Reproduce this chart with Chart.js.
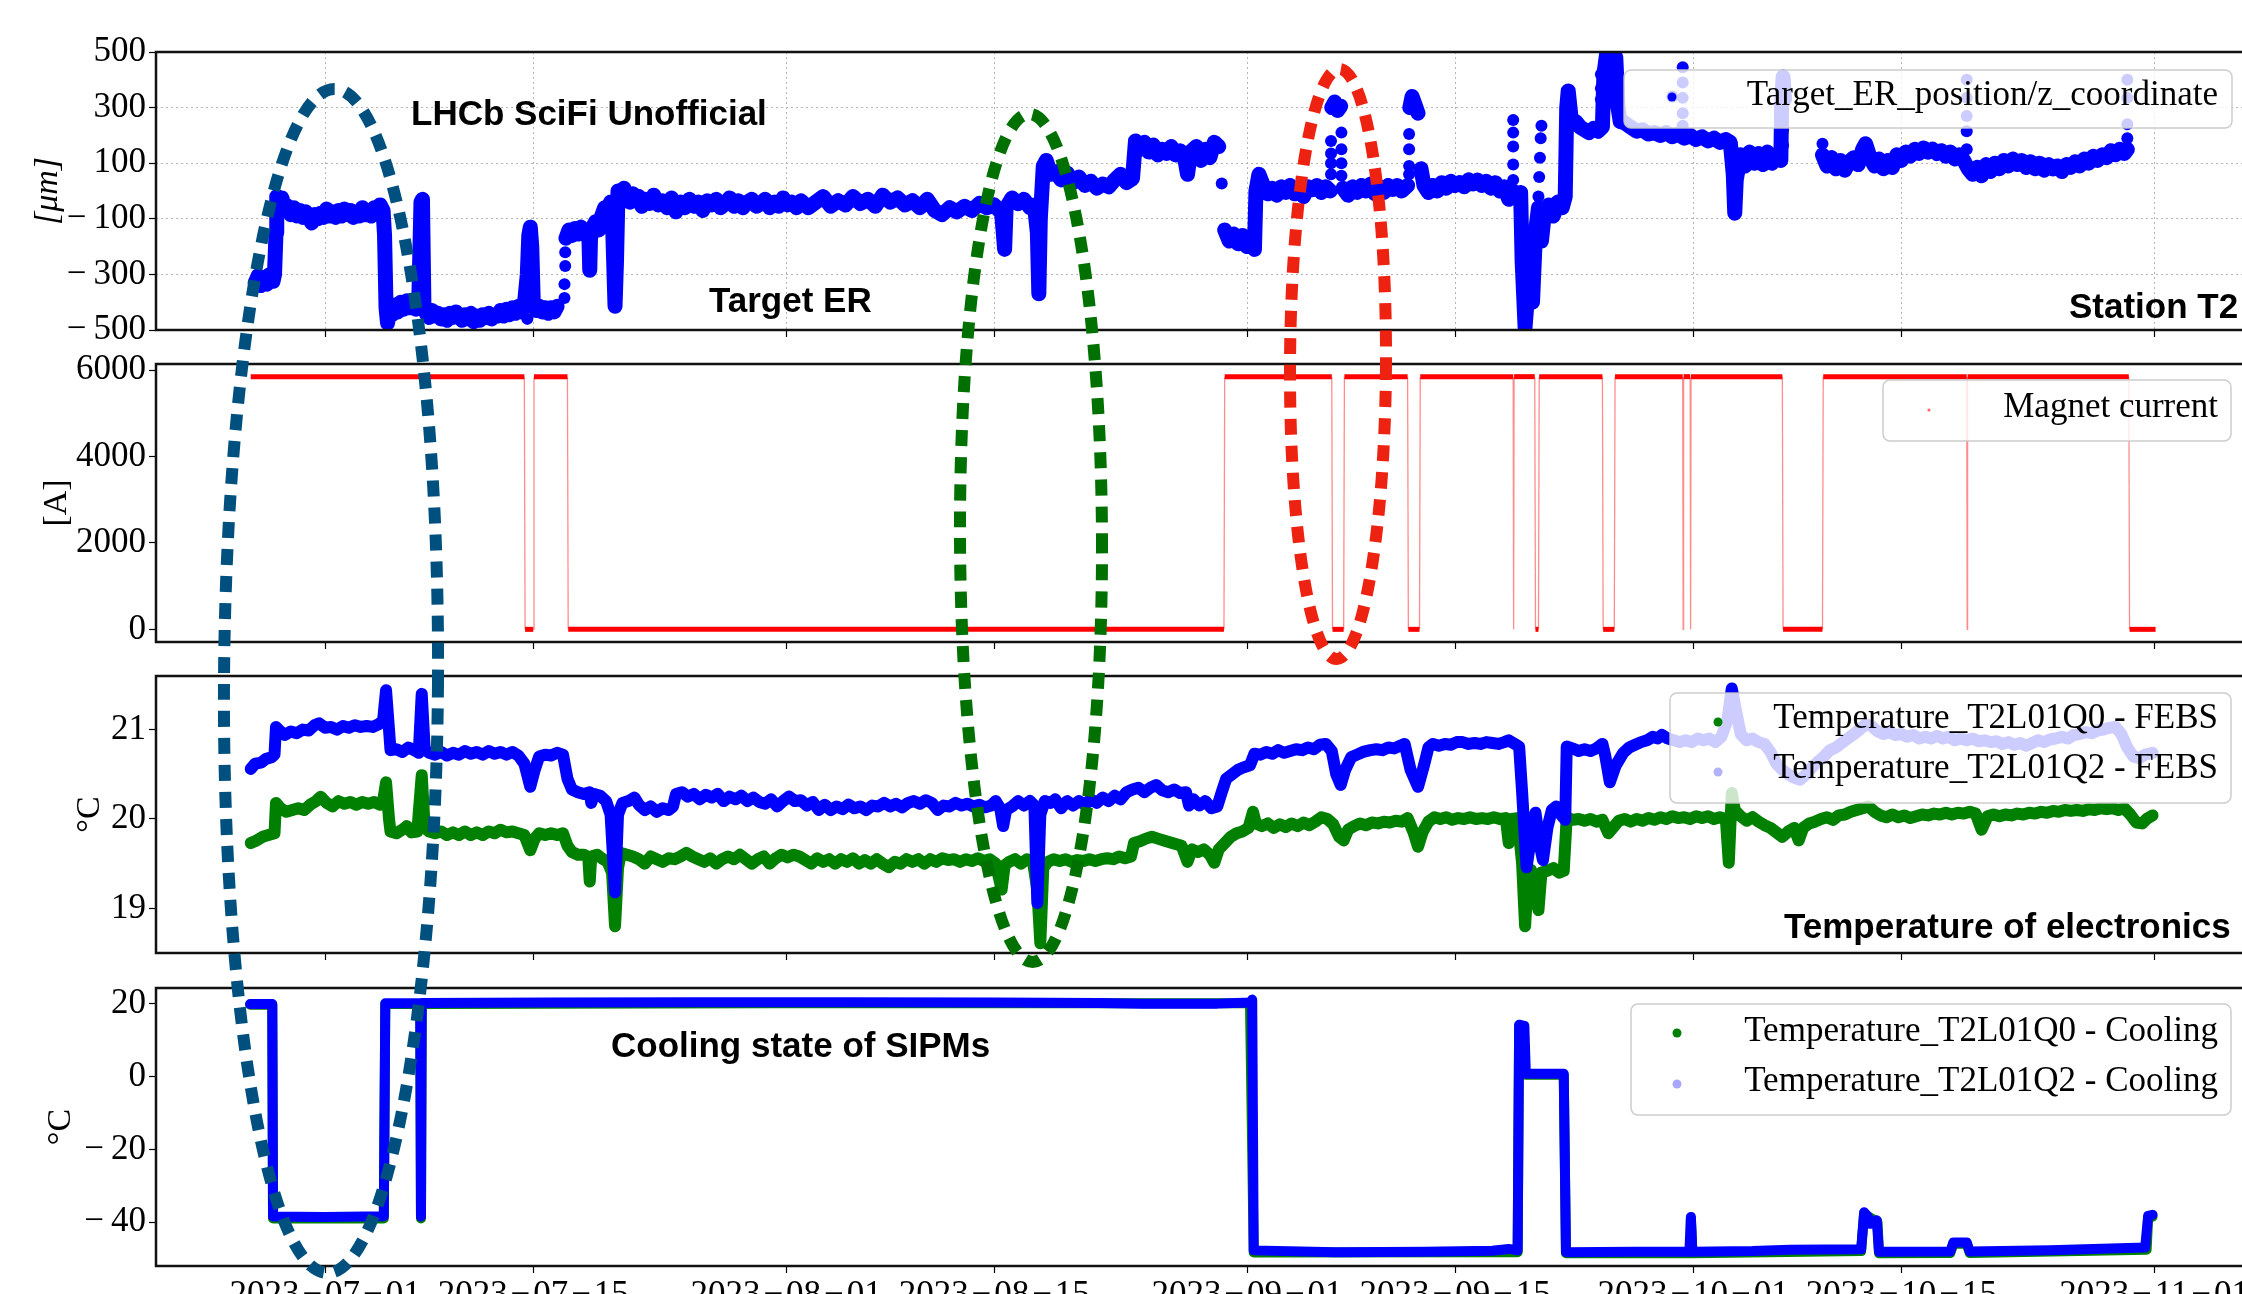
<!DOCTYPE html>
<html>
<head>
<meta charset="utf-8">
<title>SciFi T2 monitoring</title>
<script src="https://cdn.jsdelivr.net/npm/chart.js@4.4.1/dist/chart.umd.min.js"></script>
<style>
  html, body { margin: 0; padding: 0; background: #fff; overflow: hidden; }
  #stage { position: relative; width: 2242px; height: 1294px; overflow: hidden; background: #fff; }
  #stage canvas { position: absolute; left: 0; top: 0; }
</style>
</head>
<body>
<div id="stage">
  <canvas id="posChart" width="2300" height="1340"></canvas>
  <canvas id="magChart" width="2300" height="1340"></canvas>
  <canvas id="febsChart" width="2300" height="1340"></canvas>
  <canvas id="coolChart" width="2300" height="1340"></canvas>
</div>
<script>
// Time is expressed in days since 2023-07-01 00:00.
const tickDays   = [0, 14, 31, 45, 62, 76, 92, 106, 123];
const tickLabels = ['2023\u221207\u221201', '2023\u221207\u221215', '2023\u221208\u221201', '2023\u221208\u221215',
                    '2023\u221209\u221201', '2023\u221209\u221215', '2023\u221210\u221201', '2023\u221210\u221215',
                    '2023\u221211\u221201'];

const posTicks  = [-500, -300, -100, 100, 300, 500];
const magTicks  = [0, 2000, 4000, 6000];
const febsTicks = [19, 20, 21];
const coolTicks = [-40, -20, 0, 20];

const seriesLabels = {
  target: 'Target_ER_position/z_coordinate',
  magnet: 'Magnet current',
  febsQ0: 'Temperature_T2L01Q0 - FEBS',
  febsQ2: 'Temperature_T2L01Q2 - FEBS',
  coolQ0: 'Temperature_T2L01Q0 - Cooling',
  coolQ2: 'Temperature_T2L01Q2 - Cooling'
};

// Target ER z position [um]; null marks a hole in the record
const targetER = [
  [-4.7,-330],[-4.5,-305],[-4.3,-340],[-4.1,-310],[-3.9,-335],[-3.7,-300],[-3.5,-325],[-3.4,-300],[-3.3,-150],[-3.25,-20],
  [-3.1,-45],[-2.9,-25],[-2.7,-70],[-2.5,-55],[-2.3,-85],[-2.1,-60],[-1.9,-90],[-1.7,-70],[-1.5,-95],[-1.3,-75],
  [-1.1,-90],[-0.9,-115],[-0.7,-85],[-0.5,-100],[-0.3,-80],[-0.1,-95],[0.1,-65],[0.3,-90],[0.5,-75],[0.7,-95],
  [0.9,-70],[1.1,-90],[1.3,-65],[1.5,-85],[1.7,-70],[1.9,-95],[2.1,-75],[2.3,-90],[2.5,-60],[2.7,-85],
  [2.9,-70],[3.1,-90],[3.3,-60],[3.5,-80],[3.7,-50],[3.9,-70],[4.0,-160],[4.1,-420],[4.2,-475],[4.35,-430],
  [4.5,-445],[4.7,-410],[4.9,-435],[5.1,-400],[5.3,-425],[5.5,-395],[5.7,-420],[5.9,-405],[6.1,-425],[6.3,-400],
  [6.45,-40],[6.55,-30],[6.65,-420],[6.8,-440],[7.0,-455],[7.2,-430],[7.4,-450],[7.6,-440],[7.8,-460],[8.0,-445],
  [8.2,-465],[8.4,-440],[8.6,-455],[8.8,-435],[9.0,-450],[9.2,-465],[9.4,-445],[9.6,-460],[9.8,-440],[10.0,-470],
  [10.2,-450],[10.4,-465],[10.6,-445],[10.8,-455],[11.0,-440],[11.2,-460],[11.4,-445],[11.6,-450],[11.8,-430],[12.0,-450],
  [12.2,-425],[12.4,-445],[12.6,-420],[12.8,-440],[13.0,-415],[13.2,-435],[13.4,-410],[13.6,-300],[13.7,-160],[13.8,-130],
  [13.9,-200],[14.0,-400],[14.2,-430],[14.4,-415],[14.6,-435],[14.8,-420],[15.0,-440],[15.2,-420],[15.4,-435],[15.6,-415],
  [15.9,null],
  [16.2,-170],[16.4,-140],[16.6,-160],[16.8,-135],[17.0,-155],[17.2,-130],[17.4,-150],[17.6,-140],[17.75,-180],[17.8,-285],
  [17.85,-170],[18.0,-130],[18.2,-110],[18.4,-140],[18.6,-90],[18.8,-60],[18.9,-120],[19.0,-70],[19.2,-40],[19.35,-150],
  [19.5,-415],[19.6,-250],[19.7,0],[19.9,-30],[20.1,10],[20.3,-20],[20.5,-40],[20.7,-10],[20.9,-35],[21.1,-20],
  [21.3,-55],[21.5,-30],[21.8,-45],[22.1,-15],[22.4,-50],[22.7,-35],[23.0,-60],[23.3,-25],[23.6,-75],[23.9,-40],
  [24.2,-60],[24.5,-30],[24.8,-55],[25.1,-40],[25.4,-70],[25.7,-35],[26.0,-50],[26.3,-30],[26.6,-60],[26.9,-45],
  [27.2,-25],[27.5,-55],[27.8,-35],[28.1,-60],[28.4,-40],[28.7,-30],[29.0,-55],[29.3,-45],[29.6,-30],[29.9,-60],
  [30.2,-40],[30.5,-55],[30.8,-25],[31.1,-50],[31.4,-40],[31.7,-60],[32.0,-35],[32.5,-60],[33.0,-40],[33.5,-20],
  [34.0,-55],[34.5,-35],[35.0,-50],[35.5,-20],[36.0,-45],[36.5,-30],[37.0,-55],[37.5,-15],[38.0,-40],[38.5,-25],
  [39.0,-50],[39.5,-35],[40.0,-60],[40.5,-30],[41.0,-70],[41.5,-85],[42.0,-60],[42.5,-75],[43.0,-55],[43.5,-70],
  [44.0,-45],[44.5,-60],[45.0,-50],[45.5,-80],[45.7,-210],[45.8,-60],[46.2,-25],[46.6,-45],[47.0,-30],[47.4,-60],
  [47.7,-50],[47.9,-150],[48.0,-370],[48.1,-100],[48.3,90],[48.5,110],[48.8,60],[49.1,70],[49.5,40],[49.9,65],
  [50.3,30],[50.7,50],[51.1,20],[51.5,35],[51.9,10],[52.3,25],[52.7,15],[53.1,40],[53.5,60],[53.9,30],
  [54.3,45],[54.5,180],[54.8,150],[55.1,175],[55.4,140],[55.7,165],[56.0,130],[56.3,150],[56.6,135],[56.9,160],
  [57.2,130],[57.5,145],[57.8,120],[58.0,60],[58.2,140],[58.6,160],[58.9,110],[59.2,150],[59.5,120],[59.8,175],
  [60.1,160],[60.3,null],
  [60.5,-140],[60.8,-180],[61.1,-155],[61.4,-190],[61.7,-160],[62.0,-200],[62.3,-175],[62.5,-210],[62.6,0],[62.8,60],
  [63.1,20],[63.4,-10],[63.7,10],[64.0,-15],[64.3,15],[64.6,-5],[64.9,20],[65.2,-10],[65.5,10],[65.8,-20],
  [66.1,15],[66.4,5],[66.7,20],[67.0,-5],[67.3,15],[67.6,0],[67.65,null],
  [67.7,300],[67.9,320],[68.1,290],[68.3,305],[68.35,null],
  [68.45,10],[68.8,-15],[69.1,15],[69.4,-5],[69.7,20],[70.0,0],[70.3,25],[70.6,-10],[70.9,15],[71.2,-5],
  [71.5,20],[71.8,5],[72.1,20],[72.4,0],[72.8,20],[72.85,null],
  [72.95,300],[73.1,340],[73.3,310],[73.5,280],[73.55,null],
  [73.7,80],[73.9,20],[74.2,-5],[74.5,20],[74.8,0],[75.1,30],[75.4,10],[75.7,35],[76.0,20],[76.3,30],
  [76.6,15],[76.9,40],[77.2,25],[77.5,40],[77.8,20],[78.1,35],[78.4,10],[78.7,30],[79.0,0],[79.3,15],
  [79.6,-30],[79.9,0],[80.1,-20],[80.3,-10],[80.4,-5],[80.5,-250],[80.7,-490],[80.9,-350],[81.0,-200],[81.2,-400],
  [81.4,-150],[81.6,-60],[81.8,-180],[82.0,-80],[82.3,-50],[82.6,-90],[82.9,-40],[83.2,-60],[83.4,-20],[83.5,300],
  [83.6,360],[83.8,260],[84.1,250],[84.4,230],[84.7,220],[85.0,210],[85.3,225],[85.6,215],[85.9,230],[86.0,420],
  [86.2,500],[86.5,520],[86.8,480],[86.95,300],[87.1,250],[87.4,245],[87.8,230],[88.2,215],[88.6,220],[89.0,205],
  [89.4,210],[89.8,200],[90.2,210],[90.6,195],[91.0,205],[91.4,190],[91.8,200],[92.2,185],[92.6,195],[93.0,180],
  [93.4,190],[93.8,175],[94.2,185],[94.5,175],[94.7,60],[94.8,-80],[94.9,40],[95.2,130],[95.5,90],[95.8,140],
  [96.1,100],[96.4,135],[96.7,95],[97.0,140],[97.3,100],[97.6,130],[97.9,110],[97.95,300],[98.05,410],[98.15,330],
  [98.2,null],
  [100.7,130],[101.0,90],[101.3,120],[101.6,80],[101.9,110],[102.2,75],[102.5,105],[102.8,120],[103.1,95],[103.4,150],
  [103.6,170],[103.9,120],[104.2,90],[104.5,115],[104.8,80],[105.1,110],[105.4,85],[105.7,130],[106.0,110],[106.3,140],
  [106.6,125],[106.9,150],[107.2,135],[107.5,155],[107.8,140],[108.1,150],[108.4,135],[108.7,145],[109.0,125],[109.3,140],
  [109.6,115],[109.9,130],[110.2,110],[110.5,80],[110.8,60],[111.1,85],[111.4,55],[111.7,95],[112.0,70],[112.3,100],
  [112.6,80],[112.9,110],[113.2,90],[113.5,115],[113.8,95],[114.1,110],[114.4,85],[114.7,105],[115.0,80],[115.3,100],
  [115.6,75],[115.9,95],[116.2,80],[116.5,90],[116.8,70],[117.1,95],[117.4,85],[117.7,105],[118.0,90],[118.3,115],
  [118.6,100],[118.9,125],[119.2,110],[119.5,130],[119.8,120],[120.1,145],[120.4,130],[120.7,150],[121.0,135],[121.2,150]
];

// isolated read-outs of the Target ER position [um]
const targetERDots = [
  [-3.3,-290],[-3.3,-250],[-3.3,-200],[-3.3,-120],[-3.3,-80],
  [13.6,-380],[13.6,-460],[13.7,-250],
  [16.1,-385],[16.1,-335],[16.15,-270],[16.15,-220],
  [60.3,27],
  [67.65,180],[67.65,135],[67.65,100],[67.65,60],[68.35,210],[68.35,150],[68.35,100],[68.35,55],
  [72.9,205],[72.9,150],[72.9,90],[72.9,60],
  [79.9,255],[79.9,210],[79.9,160],[79.9,95],[79.9,40],
  [81.6,-20],[81.65,50],[81.7,120],[81.75,190],[81.8,235],
  [85.8,420],[85.8,370],[85.8,330],[87.0,410],[87.0,360],[87.0,300],
  [90.6,340],
  [91.3,445],[91.3,390],[91.3,335],[91.3,280],[91.3,235],
  [98.05,220],[98.05,165],
  [100.7,170],
  [110.4,400],[110.4,335],[110.4,270],[110.4,215],[110.4,150],
  [121.2,400],[121.2,335],[121.2,240],[121.2,190]
];

// LHCb dipole magnet current [A]
const magnetCurrent = [
  [-5.0,5850],[13.4,5850],[13.45,0],[14.0,0],[14.05,5850],[16.3,5850],[16.35,0],
  [60.45,0],[60.5,5850],[67.7,5850],[67.75,0],[68.5,0],[68.55,5850],
  [72.8,5850],[72.85,0],[73.6,0],[73.65,5850],[79.9,5850],[79.93,0],[79.96,5850],
  [81.35,5850],[81.4,0],[81.6,0],[81.65,5850],[85.9,5850],[85.95,0],[86.7,0],[86.75,5850],
  [91.3,5850],[91.33,0],[91.36,5850],[91.8,5850],[91.83,0],[91.86,5850],[98.0,5850],[98.05,0],
  [100.7,0],[100.75,5850],[110.4,5850],[110.43,0],[110.46,5850],[121.3,5850],[121.35,0],[123.1,0]
];

// front-end board temperatures [degC]
const febsQ0 = [
  [-5.0,19.73],[-4.6,19.76],[-4.2,19.8],[-3.8,19.82],[-3.4,19.84],[-3.3,20.18],[-3.0,20.12],[-2.6,20.08],[-2.2,20.1],[-1.8,20.12],
  [-1.4,20.1],[-1.0,20.16],[-0.6,20.2],[-0.3,20.25],[0.1,20.18],[0.5,20.14],[0.9,20.2],[1.3,20.17],[1.7,20.19],[2.1,20.16],
  [2.5,20.19],[2.9,20.17],[3.3,20.19],[3.7,20.16],[3.9,20.2],[4.1,20.41],[4.3,20.0],[4.4,19.86],[4.8,19.84],[5.2,19.88],
  [5.5,19.92],[5.8,19.85],[6.2,19.86],[6.5,20.49],[6.7,19.9],[7.0,19.86],[7.4,19.84],[7.8,19.86],[8.2,19.82],[8.6,19.85],
  [9.0,19.82],[9.4,19.86],[9.8,19.82],[10.2,19.85],[10.6,19.82],[11.0,19.86],[11.4,19.84],[11.8,19.88],[12.2,19.85],[12.6,19.86],
  [13.0,19.84],[13.4,19.82],[13.8,19.65],[14.1,19.78],[14.4,19.84],[14.8,19.82],[15.2,19.84],[15.6,19.82],[16.0,19.84],[16.3,19.7],
  [16.6,19.63],[17.0,19.6],[17.4,19.6],[17.7,19.57],[17.8,19.3],[17.9,19.58],[18.3,19.6],[18.7,19.55],[19.0,19.52],[19.3,19.4],
  [19.5,18.8],[19.7,19.45],[19.9,19.62],[20.3,19.6],[20.7,19.58],[21.1,19.55],[21.5,19.5],[21.9,19.58],[22.3,19.55],[22.7,19.52],
  [23.1,19.56],[23.5,19.55],[23.9,19.58],[24.3,19.62],[24.7,19.58],[25.1,19.55],[25.5,19.52],[25.9,19.56],[26.3,19.5],[26.7,19.55],
  [27.1,19.58],[27.5,19.55],[27.9,19.6],[28.3,19.55],[28.7,19.5],[29.1,19.55],[29.5,19.58],[29.9,19.5],[30.3,19.56],[30.7,19.6],
  [31.1,19.57],[31.5,19.6],[31.9,19.58],[32.3,19.54],[32.7,19.5],[33.1,19.56],[33.5,19.52],[33.9,19.55],[34.3,19.5],[34.7,19.55],
  [35.1,19.52],[35.5,19.56],[35.9,19.5],[36.3,19.54],[36.7,19.5],[37.1,19.55],[37.5,19.5],[37.9,19.46],[38.3,19.52],[38.7,19.5],
  [39.1,19.55],[39.5,19.52],[39.9,19.55],[40.3,19.5],[40.7,19.55],[41.1,19.52],[41.5,19.56],[41.9,19.54],[42.3,19.55],[42.7,19.52],
  [43.1,19.55],[43.5,19.53],[43.9,19.56],[44.3,19.53],[44.7,19.55],[45.1,19.5],[45.5,19.21],[45.7,19.48],[46.0,19.52],[46.4,19.55],
  [46.8,19.5],[47.2,19.55],[47.6,19.53],[47.9,19.2],[48.1,18.61],[48.3,19.45],[48.6,19.52],[49.0,19.55],[49.4,19.53],[49.8,19.55],
  [50.2,19.52],[50.6,19.54],[51.0,19.53],[51.4,19.55],[51.8,19.53],[52.2,19.55],[52.6,19.56],[53.0,19.55],[53.4,19.58],[53.8,19.56],
  [54.2,19.58],[54.4,19.73],[54.8,19.75],[55.2,19.78],[55.6,19.8],[56.0,19.78],[56.4,19.76],[56.8,19.74],[57.2,19.72],[57.6,19.7],
  [58.0,19.52],[58.3,19.66],[58.7,19.63],[59.1,19.66],[59.5,19.6],[59.8,19.51],[60.1,19.66],[60.5,19.73],[60.9,19.8],[61.3,19.84],
  [61.7,19.86],[62.1,19.9],[62.4,20.08],[62.6,19.95],[63.0,19.92],[63.4,19.95],[63.8,19.9],[64.2,19.94],[64.6,19.91],[65.0,19.95],
  [65.4,19.92],[65.8,19.96],[66.2,19.93],[66.6,19.97],[67.0,20.02],[67.4,20.0],[67.8,19.94],[68.2,19.8],[68.5,19.76],[68.8,19.88],
  [69.2,19.92],[69.6,19.95],[70.0,19.93],[70.4,19.96],[70.8,19.95],[71.2,19.97],[71.6,19.96],[72.0,19.98],[72.4,19.97],[72.8,20.01],
  [73.2,19.85],[73.5,19.69],[73.8,19.85],[74.2,19.97],[74.6,20.02],[75.0,20.0],[75.4,20.02],[75.8,19.99],[76.2,20.01],[76.6,20.0],
  [77.0,20.02],[77.4,20.0],[77.8,20.01],[78.2,20.0],[78.6,20.02],[79.0,20.0],[79.4,20.01],[79.6,19.73],[79.8,20.0],[80.2,20.01],
  [80.5,19.5],[80.7,18.8],[80.9,19.35],[81.1,19.43],[81.4,19.2],[81.6,18.98],[81.8,19.4],[82.2,19.42],[82.6,19.45],[83.0,19.4],
  [83.3,19.42],[83.5,20.02],[83.9,19.99],[84.3,20.0],[84.7,19.98],[85.1,20.0],[85.5,19.97],[85.9,19.99],[86.3,19.84],[86.6,19.9],
  [87.0,19.98],[87.4,20.0],[87.8,19.97],[88.2,20.0],[88.6,19.98],[89.0,20.01],[89.4,19.99],[89.8,20.02],[90.2,20.0],[90.6,20.03],
  [91.0,20.01],[91.4,20.02],[91.8,20.0],[92.2,20.03],[92.6,20.01],[93.0,20.03],[93.4,20.0],[93.8,20.02],[94.2,20.0],[94.4,19.51],
  [94.6,20.29],[94.8,20.1],[95.2,20.03],[95.6,19.98],[96.0,20.02],[96.4,19.97],[96.8,19.93],[97.2,19.9],[97.6,19.85],[98.0,19.8],
  [98.4,19.86],[98.8,19.9],[99.1,19.76],[99.4,19.9],[99.8,19.95],[100.2,19.97],[100.6,20.0],[101.0,20.02],[101.4,19.99],[101.8,20.04],
  [102.2,20.05],[102.6,20.08],[103.0,20.1],[103.4,20.12],[103.8,20.14],[104.2,20.08],[104.6,20.04],[105.0,20.02],[105.4,20.05],[105.8,20.02],
  [106.2,20.04],[106.6,20.01],[107.0,20.03],[107.4,20.05],[107.8,20.04],[108.2,20.06],[108.6,20.05],[109.0,20.07],[109.4,20.05],[109.8,20.07],
  [110.2,20.06],[110.6,20.08],[111.0,20.06],[111.4,19.88],[111.8,20.03],[112.2,20.05],[112.6,20.03],[113.0,20.05],[113.4,20.04],[113.8,20.06],
  [114.2,20.05],[114.6,20.07],[115.0,20.06],[115.4,20.08],[115.8,20.07],[116.2,20.09],[116.6,20.08],[117.0,20.1],[117.4,20.09],[117.8,20.1],
  [118.2,20.09],[118.6,20.11],[119.0,20.1],[119.4,20.12],[119.8,20.11],[120.2,20.12],[120.6,20.1],[121.0,20.12],[121.4,20.05],[121.8,19.96],
  [122.2,19.95],[122.5,20.0],[122.9,20.04]
];

const febsQ2 = [
  [-5.0,20.56],[-4.7,20.62],[-4.3,20.63],[-4.0,20.67],[-3.6,20.69],[-3.4,20.72],[-3.3,21.03],[-3.0,20.98],[-2.7,20.94],[-2.3,20.98],
  [-1.9,20.96],[-1.5,21.0],[-1.1,20.99],[-0.7,21.05],[-0.4,21.07],[0,21.02],[0.4,21.03],[0.8,21.0],[1.2,21.04],[1.6,21.02],
  [2.0,21.05],[2.4,21.03],[2.8,21.04],[3.2,21.03],[3.6,21.06],[3.9,21.1],[4.1,21.44],[4.3,21.0],[4.4,20.77],[4.8,20.78],
  [5.2,20.75],[5.6,20.8],[6.0,20.77],[6.3,20.74],[6.5,21.40],[6.7,20.78],[7.0,20.74],[7.4,20.72],[7.8,20.75],[8.2,20.71],
  [8.6,20.74],[9.0,20.72],[9.4,20.76],[9.8,20.73],[10.2,20.75],[10.6,20.72],[11.0,20.76],[11.4,20.73],[11.8,20.75],[12.2,20.72],
  [12.6,20.75],[13.0,20.71],[13.4,20.62],[13.8,20.36],[14.1,20.55],[14.4,20.7],[14.8,20.72],[15.2,20.71],[15.6,20.74],[16.0,20.72],
  [16.3,20.45],[16.6,20.33],[17.0,20.3],[17.4,20.28],[17.8,20.3],[17.9,20.18],[18.1,20.28],[18.5,20.26],[18.9,20.2],[19.2,20.05],
  [19.5,19.18],[19.7,20.05],[20.0,20.18],[20.4,20.2],[20.8,20.24],[21.1,20.16],[21.5,20.1],[21.9,20.14],[22.3,20.08],[22.7,20.12],
  [23.1,20.1],[23.4,20.14],[23.6,20.28],[24.0,20.3],[24.4,20.25],[24.8,20.28],[25.2,20.22],[25.6,20.27],[26.0,20.24],[26.4,20.28],
  [26.8,20.2],[27.2,20.25],[27.6,20.22],[28.0,20.26],[28.4,20.2],[28.8,20.24],[29.2,20.19],[29.6,20.17],[30.0,20.22],[30.4,20.14],
  [30.8,20.2],[31.2,20.25],[31.6,20.2],[32.0,20.21],[32.4,20.15],[32.8,20.19],[33.2,20.1],[33.6,20.16],[34.0,20.1],[34.4,20.14],
  [34.8,20.11],[35.2,20.16],[35.6,20.12],[36.0,20.14],[36.4,20.1],[36.8,20.15],[37.2,20.14],[37.6,20.18],[38.0,20.14],[38.4,20.17],
  [38.8,20.13],[39.2,20.18],[39.6,20.2],[40.0,20.17],[40.4,20.21],[40.8,20.18],[41.2,20.1],[41.6,20.15],[42.0,20.14],[42.4,20.18],
  [42.8,20.15],[43.2,20.17],[43.6,20.14],[44.0,20.16],[44.4,20.13],[44.8,20.15],[45.1,20.2],[45.4,20.12],[45.6,19.92],[45.8,20.1],
  [46.2,20.14],[46.6,20.2],[47.0,20.15],[47.4,20.2],[47.7,20.15],[47.9,19.06],[48.1,20.05],[48.4,20.2],[48.8,20.18],[49.1,20.22],
  [49.5,20.12],[49.9,20.2],[50.3,20.15],[50.7,20.2],[51.1,20.16],[51.5,20.22],[51.9,20.18],[52.3,20.24],[52.7,20.2],[53.1,20.26],
  [53.5,20.22],[53.9,20.3],[54.3,20.33],[54.7,20.35],[55.1,20.3],[55.5,20.35],[55.9,20.38],[56.3,20.32],[56.7,20.3],[57.1,20.33],
  [57.5,20.29],[57.9,20.3],[58.1,20.15],[58.4,20.22],[58.8,20.15],[59.2,20.2],[59.6,20.12],[60.0,20.14],[60.3,20.3],[60.6,20.45],
  [61.0,20.5],[61.4,20.55],[61.8,20.58],[62.2,20.6],[62.5,20.73],[62.9,20.72],[63.3,20.75],[63.7,20.73],[64.1,20.77],[64.5,20.74],
  [64.9,20.76],[65.3,20.78],[65.7,20.77],[66.1,20.8],[66.5,20.78],[66.9,20.83],[67.3,20.84],[67.7,20.76],[68.0,20.5],[68.3,20.38],
  [68.6,20.55],[69.0,20.69],[69.4,20.72],[69.8,20.75],[70.3,20.77],[70.7,20.78],[71.1,20.77],[71.5,20.8],[71.9,20.79],[72.3,20.82],
  [72.6,20.84],[73.0,20.55],[73.5,20.36],[73.9,20.6],[74.2,20.8],[74.5,20.84],[74.9,20.82],[75.3,20.84],[75.7,20.83],[76.1,20.86],
  [76.5,20.86],[76.9,20.84],[77.3,20.85],[77.7,20.84],[78.1,20.86],[78.5,20.85],[78.9,20.84],[79.3,20.86],[79.6,20.88],[80.0,20.84],
  [80.3,20.81],[80.5,20.3],[80.8,19.46],[81.1,19.8],[81.4,20.07],[81.7,19.7],[81.9,19.54],[82.2,19.9],[82.5,20.1],[82.8,20.14],
  [83.1,20.05],[83.4,19.99],[83.5,20.81],[83.9,20.79],[84.3,20.76],[84.7,20.78],[85.1,20.76],[85.5,20.79],[85.9,20.84],[86.1,20.7],
  [86.4,20.41],[86.8,20.6],[87.3,20.74],[87.7,20.8],[88.1,20.83],[88.5,20.86],[88.9,20.88],[89.3,20.92],[89.6,20.9],[89.9,20.94],
  [90.3,20.9],[90.7,20.88],[91.1,20.86],[91.5,20.88],[91.9,20.86],[92.3,20.9],[92.7,20.88],[93.1,20.9],[93.5,20.86],[93.9,20.92],
  [94.3,21.1],[94.6,21.46],[94.9,21.2],[95.2,20.95],[95.6,20.88],[96.0,20.9],[96.4,20.86],[96.8,20.84],[97.2,20.75],[97.6,20.62],
  [98.0,20.55],[98.4,20.5],[98.8,20.46],[99.2,20.44],[99.6,20.5],[100.0,20.58],[100.4,20.64],[100.8,20.7],[101.2,20.77],[101.6,20.8],
  [102.0,20.85],[102.4,20.9],[102.8,20.95],[103.2,21.0],[103.6,21.06],[104.0,21.04],[104.4,20.98],[104.8,20.95],[105.2,20.97],[105.6,20.94],
  [106.0,20.95],[106.4,20.92],[106.8,20.94],[107.2,20.9],[107.6,20.92],[108.0,20.9],[108.4,20.93],[108.8,20.9],[109.2,20.92],[109.6,20.88],
  [110.0,20.9],[110.4,20.88],[110.8,20.9],[111.2,20.87],[111.6,20.88],[112.0,20.86],[112.4,20.87],[112.8,20.84],[113.2,20.86],[113.6,20.83],
  [114.0,20.85],[114.4,20.82],[114.8,20.85],[115.2,20.88],[115.6,20.86],[116.0,20.89],[116.4,20.9],[116.8,20.92],[117.2,20.9],[117.6,20.94],
  [118.0,20.95],[118.4,20.97],[118.8,20.96],[119.2,20.99],[119.6,21.0],[120.0,21.02],[120.4,21.03],[120.8,20.95],[121.2,20.8],[121.6,20.7],
  [122.0,20.68],[122.4,20.72],[122.9,20.74]
];

// SiPM cooling set state [degC]
const coolingQ0 = [
  [-5.04,19.8],[-3.55,19.8],[-3.5,-39.0],[3.95,-39.0],[4.05,20.0],[6.4,20.0],[6.45,-39.0],[6.5,20.0],[30,20.2],[62.2,20.2],
  [62.45,-48.4],[80.2,-48.3],[80.3,14.0],[80.75,0.5],[83.3,0.5],[83.45,-48.6],[91.8,-48.6],[91.85,-39.0],[91.95,-48.6],[103.3,-48.0],
  [103.5,-37.8],[104.4,-40.0],[104.5,-48.6],[109.3,-48.5],[109.5,-46.0],[110.4,-46.0],[110.6,-48.5],[122.5,-47.6],[122.6,-38.8],[122.9,-38.5]
];

const coolingQ2 = [
  [-5.04,20],[-3.55,20],[-3.5,-38.5],[0,-38.6],[3.95,-38.4],[4.05,20.2],[6.4,20.2],[6.45,-38.5],[6.5,20.3],
  [15,20.4],[25,20.5],[35,20.5],[45,20.4],[52,20.3],[55,20.1],[60,20.1],[62.2,20.4],[62.35,21.2],[62.45,-47.8],
  [68,-48.3],[74,-48.2],[78.5,-47.9],[79.6,-47.4],[80.2,-47.8],[80.3,14.3],[80.65,14.0],[80.75,0.8],[83.3,0.8],[83.45,-48.3],
  [88,-48.2],[91.75,-48.2],[91.85,-38.6],[91.95,-48.2],[96,-48.0],[98.5,-47.6],[103.3,-47.5],[103.5,-37.3],[103.75,-38.5],
  [103.9,-40.5],[104.35,-39.5],[104.5,-48.2],[109.3,-48.1],[109.5,-45.6],[110.4,-45.6],[110.6,-48.1],[116,-47.8],
  [122.4,-47.0],[122.6,-38.3],[122.9,-38.0]
];

// ---------------------------------------------------------------------------
const CANVAS_W = 2300, CANVAS_H = 1340;
const PLOT_LEFT = 156, PLOT_RIGHT = 2250;
const X_MIN = -11.37, X_MAX = 129.45;
const SERIF = "'Liberation Serif', 'Times New Roman', serif";
const SANS = "'Liberation Sans', Arial, sans-serif";
const BLUE = '#0000ff', GREEN = '#008000', RED = '#ff0000';

Chart.defaults.font.family = SERIF;
Chart.defaults.color = '#000';

const toXY = arr => arr.map(p => ({ x: p[0], y: p[1] }));
// math-style minus: the glyph gets a little air on each side, as in TeX
const signed = v => (v < 0 ? '\u2212\u2009' + Math.abs(v) : String(v));
const dateText = s => s.split('\u2212').join('\u200a\u2212\u200a');

// frame, captions and in-axes legend of one panel
function panelDecor(spec) {
  return {
    id: 'panelDecor',
    afterDatasetsDraw(chart) {
      const { ctx, chartArea: a } = chart;
      ctx.save();
      ctx.strokeStyle = '#111';
      ctx.lineWidth = 2.5;
      ctx.strokeRect(a.left, a.top, a.right - a.left, a.bottom - a.top);

      ctx.fillStyle = '#000';
      ctx.font = 'bold 35px ' + SANS;
      ctx.textAlign = 'left';
      ctx.textBaseline = 'alphabetic';
      (spec.captions || []).forEach(c => ctx.fillText(c.text, c.x, c.y));

      const L = spec.legend;
      if (L) {
        ctx.beginPath();
        ctx.roundRect(L.x1, L.y1, L.x2 - L.x1, L.y2 - L.y1, 7);
        ctx.fillStyle = 'rgba(255,255,255,0.8)';
        ctx.fill();
        ctx.strokeStyle = 'rgba(200,200,200,0.9)';
        ctx.lineWidth = 1.5;
        ctx.stroke();
        ctx.font = '35px ' + SERIF;
        ctx.textAlign = 'right';
        L.rows.forEach(r => {
          ctx.fillStyle = r.color;
          ctx.beginPath();
          ctx.arc(L.mx, r.my, r.r, 0, Math.PI * 2);
          ctx.fill();
          ctx.fillStyle = '#000';
          ctx.fillText(chart.data.datasets[r.ds].label, L.tx, r.ty);
        });
      }
      ctx.restore();
    }
  };
}

// hand-drawn highlight rings over the whole figure
const highlightRings = {
  id: 'highlightRings',
  afterDraw(chart) {
    const ctx = chart.ctx;
    const rings = [
      { cx: 331, cy: 681, rx: 107, ry: 592, rot: 0.006, color: '#00507f' },
      { cx: 1031, cy: 538, rx: 71, ry: 424, rot: -0.004, color: '#007000' },
      { cx: 1338, cy: 364, rx: 48, ry: 295, rot: 0.005, color: '#ee2211' }
    ];
    ctx.save();
    ctx.lineWidth = 12;
    ctx.lineCap = 'butt';
    ctx.setLineDash([16, 11]);
    rings.forEach(r => {
      ctx.strokeStyle = r.color;
      ctx.beginPath();
      ctx.ellipse(r.cx, r.cy, r.rx, r.ry, r.rot, 0, Math.PI * 2);
      ctx.stroke();
    });
    ctx.restore();
  }
};

function buildPanel(canvasId, p) {
  const gridColor = '#b4b4b4';
  return new Chart(document.getElementById(canvasId), {
    type: 'line',
    data: { datasets: p.datasets },
    options: {
      responsive: false,
      animation: false,
      events: [],
      layout: { padding: { left: 0, right: CANVAS_W - PLOT_RIGHT, top: p.top, bottom: CANVAS_H - p.bottom - p.xh } },
      plugins: { legend: { display: false }, tooltip: { enabled: false } },
      scales: {
        x: {
          type: 'linear',
          min: X_MIN, max: X_MAX,
          afterBuildTicks: s => { s.ticks = tickDays.map(v => ({ value: v })); },
          afterFit: s => { s.height = p.xh; },
          ticks: {
            display: p.xLabels, autoSkip: false, maxRotation: 0, padding: 2,
            font: { family: SERIF, size: 35 }, color: '#000',
            callback: (v, i) => dateText(tickLabels[i])
          },
          grid: {
            drawOnChartArea: p.grid, color: gridColor, lineWidth: 1,
            drawTicks: true, tickLength: 7, tickColor: '#000', tickWidth: 1.2
          },
          border: { display: false, dash: [2, 3] }
        },
        y: {
          min: p.yMin, max: p.yMax,
          afterBuildTicks: s => { s.ticks = p.yTicks.map(v => ({ value: v })); },
          afterFit: s => { s.width = PLOT_LEFT; },
          ticks: { font: { family: SERIF, size: 35 }, color: '#000', padding: 3, callback: v => signed(v) },
          grid: {
            drawOnChartArea: p.grid, color: gridColor, lineWidth: 1,
            drawTicks: true, tickLength: 7, tickColor: '#000', tickWidth: 1.2
          },
          border: { display: false, dash: [2, 3] },
          title: {
            display: true, text: p.yTitle, color: '#000',
            font: { family: SERIF, size: 34, style: p.yItalic ? 'italic' : 'normal' },
            padding: { top: p.titlePad, bottom: 0 }
          }
        }
      }
    },
    plugins: [panelDecor(p.decor)].concat(p.extra || [])
  });
}

const lineStyle = (color, width) => ({
  borderColor: color, backgroundColor: color, borderWidth: width,
  pointRadius: 0, showLine: true, spanGaps: false, clip: 0,
  borderJoinStyle: 'round', borderCapStyle: 'round', tension: 0
});

// Target ER position
buildPanel('posChart', {
  top: 52, bottom: 330, xh: 10, xLabels: false, grid: true,
  yMin: -500, yMax: 500, yTicks: posTicks, yTitle: '[\u03bcm]', yItalic: true, titlePad: 27.6,
  datasets: [
    Object.assign({ label: seriesLabels.target, data: toXY(targetER) }, lineStyle(BLUE, 15)),
    { label: seriesLabels.target, data: toXY(targetERDots), showLine: false, pointRadius: 6,
      pointBackgroundColor: BLUE, pointBorderWidth: 0, clip: 0 }
  ],
  decor: {
    captions: [
      { text: 'LHCb SciFi Unofficial', x: 411, y: 125 },
      { text: 'Target ER', x: 709, y: 312 },
      { text: 'Station T2', x: 2069, y: 318 }
    ],
    legend: { x1: 1624, y1: 70, x2: 2232, y2: 128, mx: 1672, tx: 2218,
              rows: [{ ds: 0, color: BLUE, r: 4.5, my: 97, ty: 105 }] }
  }
});

// Magnet current
buildPanel('magChart', {
  top: 364, bottom: 642, xh: 10, xLabels: false, grid: false,
  yMin: -293, yMax: 6143, yTicks: magTicks, yTitle: '[A]', titlePad: 36.6,
  datasets: [
    Object.assign({ label: seriesLabels.magnet, data: toXY(magnetCurrent) }, lineStyle(RED, 5), {
      borderCapStyle: 'butt', borderJoinStyle: 'miter',
      segment: {
        borderWidth: c => (c.p0.parsed.y !== c.p1.parsed.y ? 1.3 : 5),
        borderColor: c => (c.p0.parsed.y !== c.p1.parsed.y ? 'rgba(255,0,0,0.45)' : RED)
      }
    })
  ],
  decor: {
    legend: { x1: 1883, y1: 380, x2: 2231, y2: 441, mx: 1929, tx: 2218,
              rows: [{ ds: 0, color: 'rgba(255,0,0,0.6)', r: 1.6, my: 410, ty: 417 }] }
  }
});

// Front-end electronics temperatures
buildPanel('febsChart', {
  top: 676, bottom: 953, xh: 10, xLabels: false, grid: false,
  yMin: 18.5, yMax: 21.6, yTicks: febsTicks, yTitle: '\u00b0C', titlePad: 69.6,
  datasets: [
    Object.assign({ label: seriesLabels.febsQ0, data: toXY(febsQ0), order: 1 }, lineStyle(GREEN, 12)),
    Object.assign({ label: seriesLabels.febsQ2, data: toXY(febsQ2), order: 0 }, lineStyle(BLUE, 12))
  ],
  decor: {
    captions: [{ text: 'Temperature of electronics', x: 1784, y: 938 }],
    legend: { x1: 1670, y1: 693, x2: 2231, y2: 803, mx: 1718, tx: 2218,
              rows: [{ ds: 0, color: GREEN, r: 4.5, my: 722, ty: 728 },
                     { ds: 1, color: '#b2b2ff', r: 4.5, my: 772, ty: 778 }] }
  }
});

// SiPM cooling state
buildPanel('coolChart', {
  top: 988, bottom: 1266, xh: 60, xLabels: true, grid: false,
  yMin: -52.1, yMax: 24.4, yTicks: coolTicks, yTitle: '\u00b0C', titlePad: 40.6,
  datasets: [
    Object.assign({ label: seriesLabels.coolQ0, data: toXY(coolingQ0), order: 1 }, lineStyle(GREEN, 10)),
    Object.assign({ label: seriesLabels.coolQ2, data: toXY(coolingQ2), order: 0 }, lineStyle(BLUE, 10))
  ],
  decor: {
    captions: [{ text: 'Cooling state of SIPMs', x: 611, y: 1057 }],
    legend: { x1: 1631, y1: 1004, x2: 2231, y2: 1115, mx: 1677, tx: 2218,
              rows: [{ ds: 0, color: GREEN, r: 4.5, my: 1033, ty: 1041 },
                     { ds: 1, color: '#a8a8ff', r: 4.5, my: 1084, ty: 1091 }] }
  },
  extra: [highlightRings]
});
</script>
</body>
</html>
